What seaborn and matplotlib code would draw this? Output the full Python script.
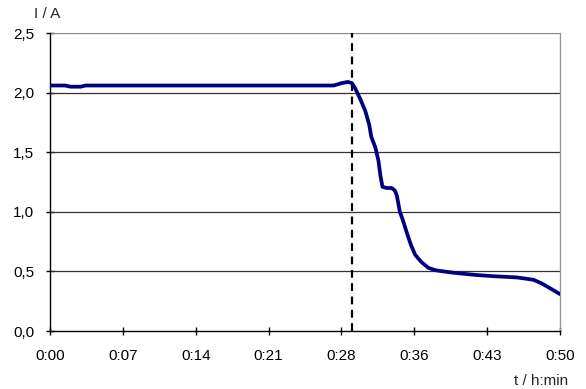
import matplotlib
matplotlib.use("Agg")
import matplotlib.pyplot as plt
import seaborn as sns
import pandas as pd
import numpy as np

# data (time in minutes, current in A)
time_min = [0.0, 1.5, 2.0, 3.0, 3.5, 10.0, 20.0, 27.8, 28.6, 29.2, 29.6, 29.9, 30.4, 30.9,
            31.3, 31.5, 31.9, 32.2, 32.4, 32.6, 33.0, 33.5, 33.8, 34.0, 34.3, 34.6, 35.0,
            35.4, 35.8, 36.4, 37.1, 37.8, 38.6, 39.5, 40.6, 41.8, 43.5, 45.75, 46.6,
            47.4, 48.2, 49.0, 50.0]
current_A = [2.06, 2.06, 2.05, 2.05, 2.06, 2.06, 2.06, 2.06, 2.08, 2.09, 2.08, 2.04, 1.95, 1.85,
             1.73, 1.63, 1.54, 1.43, 1.30, 1.21, 1.20, 1.20, 1.18, 1.14, 1.00, 0.93, 0.82,
             0.72, 0.64, 0.58, 0.53, 0.51, 0.50, 0.49, 0.48, 0.47, 0.46, 0.45, 0.44,
             0.43, 0.40, 0.36, 0.31]
x_tick_labels = ["0:00", "0:07", "0:14", "0:21", "0:28", "0:36", "0:43", "0:50"]
y_tick_labels = ["0,0", "0,5", "1,0", "1,5", "2,0", "2,5"]
marker_time = 29.6

sns.set_theme(style="white")
plt.rcParams['font.family'] = ['Liberation Sans', 'DejaVu Sans']

df = pd.DataFrame({"t": time_min, "I": current_A})

fig = plt.figure(figsize=(5.86, 3.89), dpi=100)
ax = fig.add_axes([0.0853, 0.149, 0.8703, 0.766])

y_ticks = [0.0, 0.5, 1.0, 1.5, 2.0, 2.5]
for yv in y_ticks[1:]:
    ax.axhline(yv, color="#333333" if yv < 2.5 else "#888888", lw=0.9, zorder=1)

ax.axvline(marker_time, color="black", lw=1.6, ls=(0, (3.5, 2.5)), zorder=2)

sns.lineplot(data=df, x="t", y="I", ax=ax, color="#000080", lw=2.7, zorder=3)

ax.set_xlim(0, 50)
ax.set_ylim(0, 2.5)
x_ticks = [i * 50 / 7 for i in range(8)]
ax.set_xticks(x_ticks)
ax.set_xticklabels(x_tick_labels, fontsize=11)
ax.set_yticks(y_ticks)
ax.set_yticklabels(y_tick_labels, fontsize=11)
ax.set_xlabel("")
ax.set_ylabel("")

ax.spines["top"].set_visible(False)
ax.spines["right"].set_color("#999999")
ax.spines["right"].set_linewidth(1.0)
for s in ["left", "bottom"]:
    ax.spines[s].set_color("black")
    ax.spines[s].set_linewidth(1.0)

ax.tick_params(axis="both", which="major", direction="inout", length=6, width=1,
               color="black", labelcolor="black", bottom=True, left=True)
ax.tick_params(axis="x", pad=10)
ax.tick_params(axis="y", pad=8.5)

fig.text(47 / 586, 1 - 14 / 389, "I / A", fontsize=11, ha="center", va="center")
fig.text(568 / 586, 1 - 381 / 389, "t / h:min", fontsize=11, ha="right", va="center")

fig.savefig("out.png", dpi=100)
